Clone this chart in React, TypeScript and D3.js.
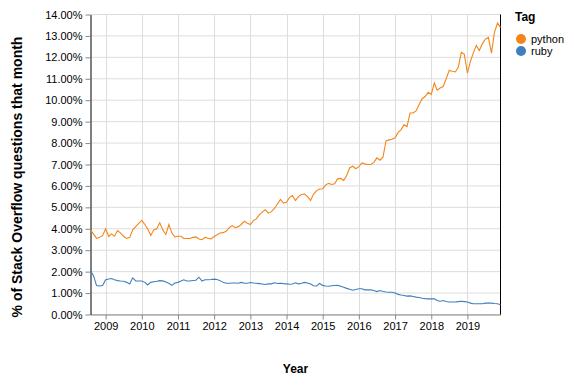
import { useEffect, useRef } from 'react'
import * as d3 from 'd3'

// monthly share of Stack Overflow questions (%), Aug 2008 .. Dec 2019
const startMonth = new Date(2008, 7, 1)
const tags = ['python', 'ruby']
const colors = ['#f58518', '#3f7fbf']

const python = [
  3.95, 3.75, 3.55, 3.6, 3.68, 4.0, 3.64, 3.76, 3.65, 3.92, 3.8, 3.65,
  3.55, 3.6, 3.95, 4.1, 4.25, 4.39, 4.2, 4.0, 3.69, 3.95, 4.0, 4.28,
  3.95, 3.73, 4.2, 3.8, 3.62, 3.65, 3.65, 3.55, 3.55, 3.55, 3.6, 3.62,
  3.52, 3.49, 3.6, 3.56, 3.53, 3.64, 3.72, 3.8, 3.82, 3.88, 4.05, 4.15,
  4.05, 4.1, 4.2, 4.35, 4.26, 4.2, 4.38, 4.46, 4.65, 4.78, 4.89, 4.73,
  4.8, 4.95, 5.16, 5.37, 5.2, 5.24, 5.47, 5.55, 5.32, 5.5, 5.6, 5.62,
  5.5, 5.32, 5.62, 5.78, 5.86, 5.87, 6.05, 6.12, 6.07, 6.1, 6.33, 6.35,
  6.25, 6.5, 6.85, 6.92, 6.8, 6.9, 7.08, 7.03, 7.0, 7.0, 7.1, 7.31,
  7.2, 7.35, 8.1, 8.15, 8.18, 8.25, 8.5, 8.62, 8.85, 8.77, 9.4, 9.4,
  9.5, 9.8, 10.07, 10.17, 10.37, 10.27, 10.8, 10.47, 10.57, 10.64, 11.0, 11.39,
  11.35, 11.32, 11.54, 12.24, 12.14, 11.26, 11.82, 12.2, 12.55, 12.32, 12.63, 12.85,
  12.93, 12.2, 13.17, 13.6, 13.4,
]

const ruby = [
  2.05, 1.8, 1.35, 1.33, 1.35, 1.62, 1.66, 1.68, 1.62, 1.58, 1.56, 1.55,
  1.5, 1.42, 1.71, 1.57, 1.56, 1.56, 1.5, 1.38, 1.5, 1.53, 1.55, 1.58,
  1.57, 1.52, 1.46, 1.36, 1.47, 1.5, 1.56, 1.62, 1.56, 1.56, 1.59, 1.6,
  1.74, 1.56, 1.62, 1.62, 1.63, 1.65, 1.63, 1.58, 1.5, 1.46, 1.46, 1.47,
  1.47, 1.46, 1.5, 1.46, 1.46, 1.49, 1.47, 1.46, 1.44, 1.42, 1.4, 1.43,
  1.43, 1.48, 1.45, 1.46, 1.44, 1.43, 1.41, 1.42, 1.48, 1.43, 1.46, 1.5,
  1.47, 1.42, 1.34, 1.33, 1.45, 1.36, 1.33, 1.32, 1.34, 1.35, 1.36, 1.32,
  1.27, 1.22, 1.18, 1.13, 1.17, 1.2, 1.2, 1.15, 1.15, 1.15, 1.12, 1.07,
  1.12, 1.07, 1.05, 1.04, 1.04, 1.0, 0.94, 0.91, 0.89, 0.86, 0.87, 0.84,
  0.81, 0.79, 0.76, 0.74, 0.73, 0.73, 0.73, 0.65, 0.62, 0.65, 0.61, 0.58,
  0.58, 0.58, 0.6, 0.62, 0.6, 0.58, 0.53, 0.5, 0.5, 0.5, 0.5, 0.53,
  0.53, 0.53, 0.51, 0.5, 0.45,
]

const yTicks = d3.range(0, 15, 1)

const App = () => {
  const svgRef = useRef(null)

  useEffect(() => {
    const svg = d3.select(svgRef.current)
    svg.selectAll('*').remove()

    const font = 'Liberation Sans, Arial, sans-serif'
    const dates = python.map((_, i) => d3.timeMonth.offset(startMonth, i))
    const series = [python, ruby]

    const x = d3
      .scaleTime()
      .domain([dates[0], dates[dates.length - 1]])
      .range([90.5, 500.5])
    const y = d3.scaleLinear().domain([0, 14]).range([314.5, 14.5])

    const g = svg.append('g')

    // grid
    g.selectAll('line.hgrid')
      .data(yTicks)
      .enter()
      .append('line')
      .attr('x1', x.range()[0])
      .attr('x2', x.range()[1])
      .attr('y1', (d) => y(d))
      .attr('y2', (d) => y(d))
      .attr('stroke', '#ddd')
      .attr('stroke-width', 1)

    const years = x.ticks(d3.timeYear.every(1))
    g.selectAll('line.vgrid')
      .data(years)
      .enter()
      .append('line')
      .attr('x1', (d) => Math.round(x(d)) + 0.5)
      .attr('x2', (d) => Math.round(x(d)) + 0.5)
      .attr('y1', y.range()[1])
      .attr('y2', y.range()[0])
      .attr('stroke', '#ddd')
      .attr('stroke-width', 1)

    // x axis
    const xAxis = g
      .append('g')
      .attr('transform', `translate(0, ${y.range()[0]})`)
      .call(
        d3
          .axisBottom(x)
          .ticks(d3.timeYear.every(1))
          .tickFormat(d3.timeFormat('%Y'))
          .tickSize(5)
          .tickSizeOuter(0)
          .tickPadding(3),
      )
    xAxis.select('.domain').attr('stroke', '#888')
    xAxis.selectAll('.tick line').attr('stroke', '#888')
    xAxis
      .selectAll('.tick text')
      .attr('font-family', font)
      .attr('font-size', 11)
      .attr('fill', '#000')

    // y axis
    const yAxis = g
      .append('g')
      .attr('transform', `translate(${x.range()[0]}, 0)`)
      .call(
        d3
          .axisLeft(y)
          .tickValues(yTicks)
          .tickFormat((d) => `${(+d).toFixed(2)}%`)
          .tickSize(5)
          .tickSizeOuter(0)
          .tickPadding(3),
      )
    yAxis.select('.domain').attr('stroke', '#000')
    yAxis.selectAll('.tick line').attr('stroke', '#888')
    yAxis
      .selectAll('.tick text')
      .attr('font-family', font)
      .attr('font-size', 11)
      .attr('fill', '#000')

    // right edge
    g.append('line')
      .attr('x1', x.range()[1])
      .attr('x2', x.range()[1])
      .attr('y1', y.range()[1])
      .attr('y2', y.range()[0])
      .attr('stroke', '#000')

    // lines
    const line = d3
      .line<number>()
      .x((_, i) => x(dates[i]))
      .y((d) => y(d))

    g.selectAll('path.series')
      .data(series)
      .enter()
      .append('path')
      .attr('class', 'series')
      .attr('d', (d) => line(d))
      .attr('fill', 'none')
      .attr('stroke', (_, i) => colors[i])
      .attr('stroke-width', 1.1)

    // titles
    g.append('text')
      .attr('x', (x.range()[0] + x.range()[1]) / 2)
      .attr('y', 373)
      .attr('text-anchor', 'middle')
      .attr('font-family', font)
      .attr('font-size', 12)
      .attr('font-weight', 'bold')
      .text('Year')

    g.append('text')
      .attr('transform', 'translate(22, 177) rotate(-90)')
      .attr('text-anchor', 'middle')
      .attr('font-family', font)
      .attr('font-size', 14)
      .attr('font-weight', 'bold')
      .text('% of Stack Overflow questions that month')

    // legend
    const legend = g.append('g').attr('transform', 'translate(515, 0)')
    legend
      .append('text')
      .attr('x', 0)
      .attr('y', 21)
      .attr('font-family', font)
      .attr('font-size', 12)
      .attr('font-weight', 'bold')
      .text('Tag')
    const items = legend
      .selectAll('g.item')
      .data(tags)
      .enter()
      .append('g')
      .attr('transform', (_, i) => `translate(0, ${39 + i * 12})`)
    items
      .append('circle')
      .attr('cx', 6)
      .attr('cy', 0)
      .attr('r', 5)
      .attr('fill', (_, i) => colors[i])
    items
      .append('text')
      .attr('x', 16)
      .attr('y', 4)
      .attr('font-family', font)
      .attr('font-size', 11)
      .text((d) => d)
  }, [])

  return (
    <div style={{ width: 574, height: 386 }}>
      <svg ref={svgRef} width={574} height={386} style={{ position: 'absolute', left: 0, top: 0 }}></svg>
    </div>
  )
}

export default App
